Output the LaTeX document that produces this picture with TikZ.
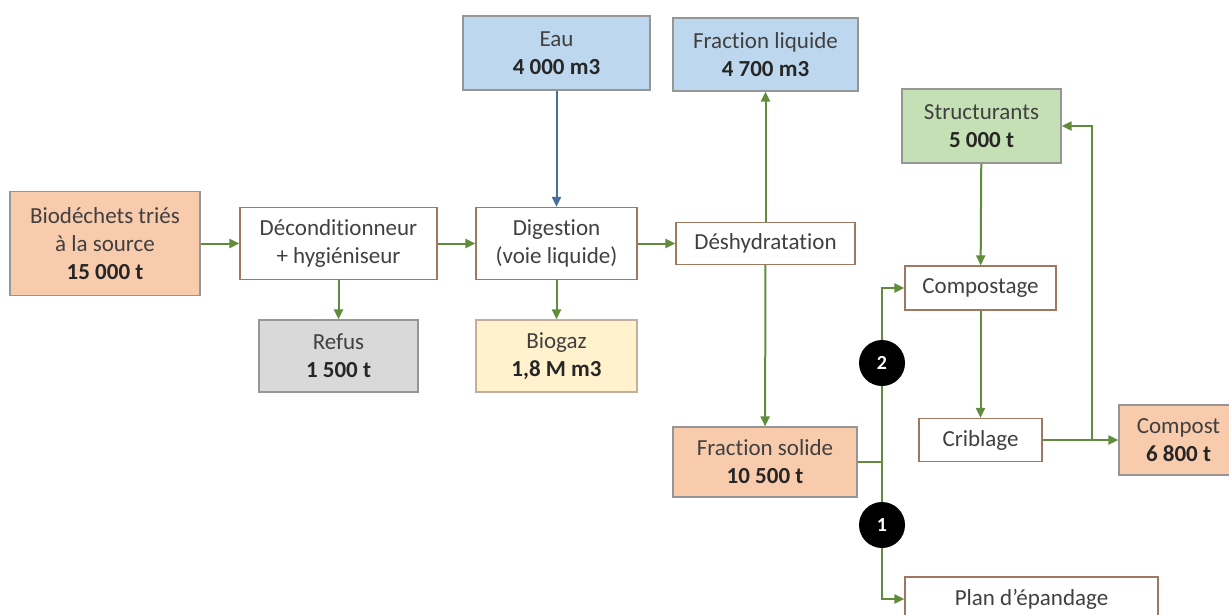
\documentclass[tikz,border=0pt]{standalone}
\usepackage{fontspec}
\setmainfont[Ligatures={NoCommon}]{Carlito}
\usetikzlibrary{arrows.meta}
\definecolor{peach}{HTML}{F8CBAD}
\definecolor{greyfill}{HTML}{D9D9D9}
\definecolor{yellowfill}{HTML}{FFF2CC}
\definecolor{bluefill}{HTML}{BDD7EE}
\definecolor{greenfill}{HTML}{C5E0B4}
\definecolor{flowgreen}{RGB}{96,140,60}
\definecolor{flowblue}{RGB}{72,110,155}
\definecolor{boxborder}{RGB}{160,120,95}
\definecolor{fillborder}{RGB}{150,150,150}
\definecolor{txt}{HTML}{404040}
\tikzset{
  box/.style={draw=boxborder, line width=1.2pt, fill=white, inner sep=0pt, align=center,
    text=txt, font=\fontsize{23}{28}\selectfont},
  fbox/.style={box, draw=fillborder},
  arr/.style={draw=flowgreen, line width=2pt, -{Triangle[length=10pt,width=9pt]}},
  plainline/.style={draw=flowgreen, line width=2pt},
  bluearr/.style={draw=flowblue, line width=2pt, -{Triangle[length=10pt,width=9pt]}},
  numdot/.style={circle, fill=black, text=white, minimum size=46pt, inner sep=0pt,
    font=\fontsize{20}{24}\selectfont\bfseries}
}
\newcommand{\qty}[1]{\textbf{\color{black!85}#1}}
\begin{document}
\begin{tikzpicture}[x=1pt,y=-1pt]
\useasboundingbox (0,0) rectangle (1229,614);
\clip (0,0) rectangle (1229,614);
% boxes
\node[fbox, fill=peach, minimum width=190pt, minimum height=104pt] (bio) at (105,243.5)
  {Biodéchets triés\\à la source\\\qty{15 000 t}};
\node[box, minimum width=197pt, minimum height=72pt] (decond) at (338.5,243.5)
  {Déconditionneur\\+ hygiéniseur};
\node[fbox, fill=greyfill, minimum width=159pt, minimum height=72pt] (refus) at (338.5,356)
  {Refus\\\qty{1 500 t}};
\node[box, minimum width=161pt, minimum height=72pt] (digest) at (556.5,243.5)
  {Digestion\\(voie liquide)};
\node[box, draw=boxborder!60, fill=yellowfill, minimum width=161pt, minimum height=72pt] (biogaz) at (556.5,356)
  {Biogaz\\\qty{1,8 M m3}};
\node[fbox, fill=bluefill, minimum width=187pt, minimum height=74pt] (eau) at (556.5,53)
  {Eau\\\qty{4 000 m3}};
\node[fbox, fill=bluefill, minimum width=185pt, minimum height=73pt] (fliq) at (765.5,54.5)
  {Fraction liquide\\\qty{4 700 m3}};
\node[box, minimum width=179pt, minimum height=42pt] (deshyd) at (765.5,243.5)
  {Déshydratation};
\node[fbox, fill=peach, minimum width=184pt, minimum height=70pt] (fsol) at (765,462)
  {Fraction solide\\\qty{10 500 t}};
\node[fbox, fill=greenfill, minimum width=159pt, minimum height=74pt] (struct) at (981.5,126)
  {Structurants\\\qty{5 000 t}};
\node[box, minimum width=151pt, minimum height=44pt] (compostage) at (980.5,288)
  {Compostage};
\node[box, minimum width=123pt, minimum height=43pt] (crib) at (980.5,440)
  {Criblage};
\node[fbox, fill=peach, minimum width=119pt, minimum height=70pt] (compost) at (1178.5,440)
  {Compost\\\qty{6 800 t}};
\node[box, minimum width=253pt, minimum height=44pt] (plan) at (1031.5,599)
  {Plan d'épandage};
% connectors
\draw[arr] (bio) -- (decond);
\draw[arr] (decond) -- (digest);
\draw[arr] (digest) -- (deshyd);
\draw[arr] (decond) -- (refus);
\draw[arr] (digest) -- (biogaz);
\draw[bluearr] (eau) -- (digest);
\draw[arr] (deshyd) -- (fliq);
\draw[arr] (deshyd) -- (fsol);
\coordinate (j) at (882,462);
\draw[plainline] (fsol.east) -- (j);
\draw[arr] (j) |- (compostage.west);
\draw[arr] (j) |- (plan.west);
\draw[arr] (struct) -- (compostage);
\draw[arr] (compostage) -- (crib);
\draw[arr] (crib) -- (compost);
\coordinate (fb) at (1092,440);
\draw[arr] (fb) |- (struct.east);
% numbered markers
\node[numdot] (n2) at (882,363) {2};
\node[numdot] (n1) at (882,525) {1};
\end{tikzpicture}
\end{document}
